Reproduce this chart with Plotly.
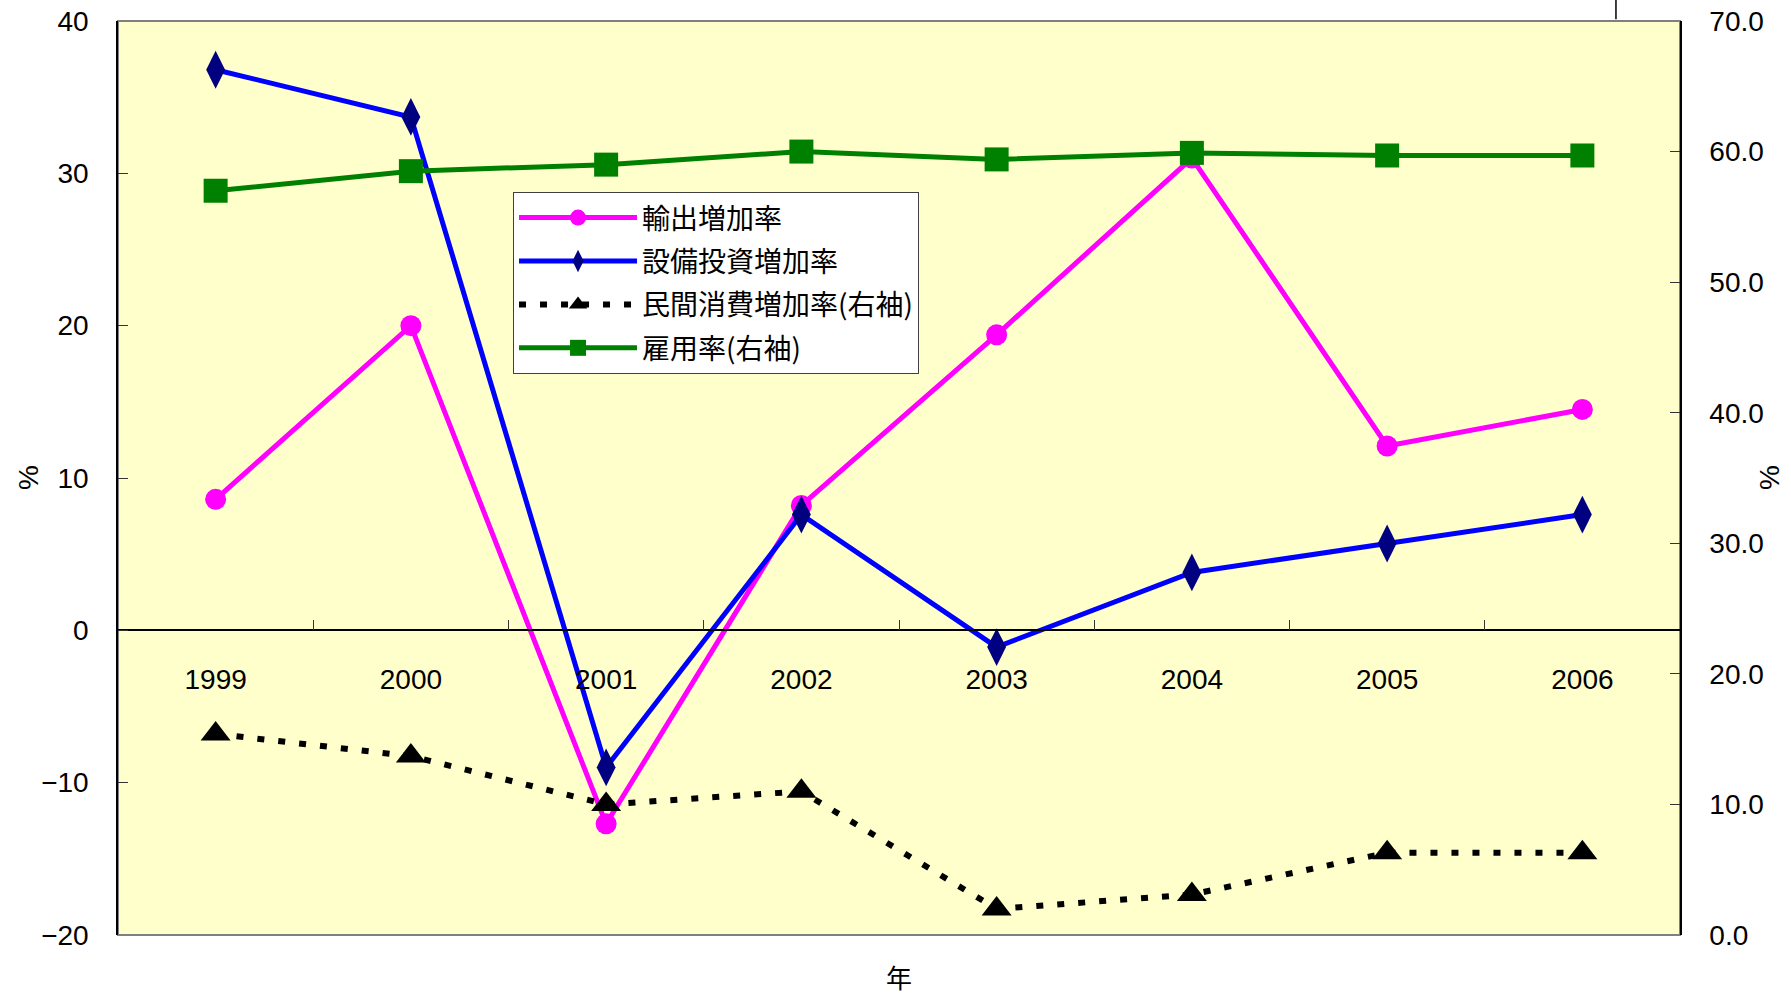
import plotly.graph_objects as go

# ---- data ----
years = ["1999", "2000", "2001", "2002", "2003", "2004", "2005", "2006"]
export_growth = [8.6, 20.0, -12.7, 8.2, 19.4, 31.0, 12.1, 14.5]          # 輸出増加率 (left axis)
capex_growth = [36.8, 33.7, -9.0, 7.6, -1.1, 3.8, 5.7, 7.6]              # 設備投資増加率 (left axis)
consumption_growth = [15.4, 13.7, 10.0, 11.0, 2.0, 3.1, 6.3, 6.3]        # 民間消費増加率 (right axis)
employment_rate = [57.0, 58.5, 59.0, 60.0, 59.4, 59.9, 59.7, 59.7]       # 雇用率 (right axis)

series_names = ["輸出増加率", "設備投資増加率", "民間消費増加率(右袖)", "雇用率(右袖)"]
left_range = [-20, 40]
right_range = [0, 70]

FONT = "Noto Sans CJK JP, sans-serif"
NUM_FONT = "Liberation Sans, Noto Sans CJK JP, sans-serif"

fig = go.Figure()
fig.add_trace(go.Scatter(
    x=years, y=export_growth, name=series_names[0], mode="lines+markers", legendgroup="g1",
    line=dict(color="#FF00FF", width=5),
    marker=dict(symbol="circle", size=21, color="#FF00FF")))
fig.add_trace(go.Scatter(
    x=years, y=capex_growth, name=series_names[1], mode="lines+markers", legendgroup="g2",
    line=dict(color="#0000FF", width=5),
    marker=dict(symbol="diamond-tall", size=27, color="#000080")))
fig.add_trace(go.Scatter(
    x=years, y=consumption_growth, name=series_names[2], mode="lines+markers", yaxis="y2",
    legendgroup="g3",
    line=dict(color="black", width=6, dash="7px,14px"),
    marker=dict(symbol="triangle-up", size=26, color="black")))
fig.add_trace(go.Scatter(
    x=years, y=employment_rate, name=series_names[3], mode="lines+markers", yaxis="y2",
    legendgroup="g4",
    line=dict(color="#008000", width=5),
    marker=dict(symbol="square", size=24, color="#008000")))

tickfont = dict(family=NUM_FONT, size=28, color="black")

fig.update_layout(
    width=1791, height=1000,
    margin=dict(l=118, r=111, t=21, b=65, autoexpand=False),
    paper_bgcolor="white", plot_bgcolor="#FFFFCC",
    font=dict(family=FONT, size=28, color="black"),
    showlegend=True,
    legend=dict(
        x=0.2529, y=0.813, xanchor="left", yanchor="top",
        bgcolor="white", bordercolor="#404040", borderwidth=1,
        font=dict(family=FONT, size=28, color="black"),
        itemwidth=118, traceorder="grouped", tracegroupgap=4),
    xaxis=dict(
        type="category", range=[-0.5, 7.5], automargin=False,
        anchor="free", position=(0 - left_range[0]) / (left_range[1] - left_range[0]),
        showline=True, linecolor="black", linewidth=1.5,
        ticks="inside", ticklen=10, tickwidth=1, tickcolor="#333333",
        tickson="boundaries", showgrid=False, zeroline=False,
        ticklabelstandoff=24, tickfont=tickfont, ticklabeloverflow="allow"),
    yaxis=dict(
        range=left_range, dtick=10, tick0=0, automargin=False,
        showline=True, linecolor="black", linewidth=1.5,
        ticks="inside", ticklen=10, tickcolor="#333333",
        showgrid=False, zeroline=False, ticklabelstandoff=22, tickfont=tickfont,
        ticklabeloverflow="allow"),
    yaxis2=dict(
        range=right_range, dtick=10, tick0=0, tickformat=".1f", automargin=False,
        overlaying="y", side="right", anchor="x",
        showline=True, linecolor="black", linewidth=1.5,
        ticks="inside", ticklen=10, tickcolor="#333333",
        showgrid=False, zeroline=False, ticklabelstandoff=22, tickfont=tickfont,
        ticklabeloverflow="allow"),
)

# plot frame
fig.add_shape(type="rect", xref="paper", yref="paper", x0=0, y0=0, x1=1, y1=1,
              line=dict(color="#808080", width=2), layer="below")
# small stray mark at the top right of the original picture
fig.add_shape(type="line", xref="paper", yref="paper", x0=0.959, x1=0.959, y0=1.002, y1=1.025,
              line=dict(color="black", width=1.5))

# axis titles
fig.add_annotation(text="%", xref="paper", yref="paper", x=-0.0576, y=0.5, showarrow=False,
                   xanchor="center", yanchor="middle",
                   textangle=-90, font=dict(family=NUM_FONT, size=28))
fig.add_annotation(text="%", xref="paper", yref="paper", x=1.057, y=0.5, showarrow=False,
                   xanchor="center", yanchor="middle",
                   textangle=-90, font=dict(family=NUM_FONT, size=28))
fig.add_annotation(text="年", xref="paper", yref="paper", x=0.5, y=-0.045, showarrow=False,
                   xanchor="center", yanchor="middle",
                   font=dict(family=FONT, size=26))

fig.write_html("out.html")
